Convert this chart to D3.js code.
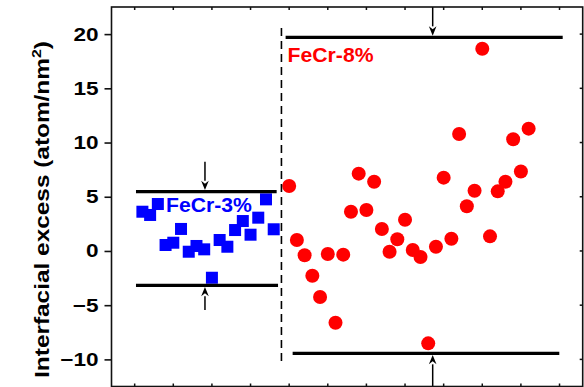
<!DOCTYPE html>
<html><head><meta charset="utf-8">
<script src="https://cdn.jsdelivr.net/npm/d3@7"></script>
<style>body{margin:0;background:#fff}svg{display:block}</style>
</head><body><svg id="c" width="584" height="387"></svg>
<script>
// ---- data ----
const yTicks = [-10, -5, 0, 5, 10, 15, 20];
const xTicks = [0, 5, 10, 15, 20, 25, 30, 35, 40, 45, 50, 55];
const blueSample = [1,2,3,4,5,6,7,8,9,10,11,12,13,14,15,16,17,18];
const blueValues = [3.62,3.32,4.33,0.55,0.76,2.03,-0.07,0.46,0.15,-2.47,1.01,0.39,1.93,2.76,1.50,3.07,4.76,2.00];
const redSample = [20,21,22,23,24,25,26,27,28,29,30,31,32,33,34,35,36,37,38,39,40,41,42,43,44,45,46,47,48,49,50,51];
const redValues = [5.99,1.01,-0.40,-2.28,-4.25,-0.28,-6.62,-0.34,3.62,7.13,3.78,6.39,2.03,-0.07,1.08,2.88,0.09,-0.56,-8.52,0.39,6.76,1.13,10.79,4.12,5.56,18.65,1.35,5.50,6.39,10.30,7.33,11.28];
const limitValues = [5.47, -3.17, 19.70, -9.44];
const limitFrom = [0.17, 0.17, 19.54, 20.45];
const limitTo = [18.38, 18.56, 55.41, 54.97];
const arrowSample = [9.1, 9.1, 38.58, 38.58];
const arrowStart = [8.23, -5.44, 22.5, -12.5];
const separatorSample = 19;
const separatorRange = [20.56, -10.52];
const seriesLabels = ["FeCr-3%", "FeCr-8%"];
const yTitle = ["Interfacial excess (atom/nm", "2", ")"];

// ---- chart ----
const svg = d3.select("#c");
const font = "'Liberation Sans', Arial, Helvetica, sans-serif";
const x = d3.scaleLinear().domain([-3, 58]).range([111.5, 582.7]);
const y = d3.scaleLinear().domain([-12.5, 22.5]).range([386.5, 7]);

// markers
svg.append("g").selectAll("rect").data(blueValues).join("rect")
  .attr("x", (d, i) => x(blueSample[i]) - 6)
  .attr("y", d => y(d) - 6)
  .attr("width", 12).attr("height", 12)
  .attr("fill", "#0000ff");

svg.append("g").selectAll("circle").data(redValues).join("circle")
  .attr("cx", (d, i) => x(redSample[i]))
  .attr("cy", d => y(d))
  .attr("r", 7)
  .attr("fill", "#ff0000");

// limit lines
svg.append("g").selectAll("line").data(limitValues).join("line")
  .attr("x1", (d, i) => x(limitFrom[i]))
  .attr("x2", (d, i) => x(limitTo[i]))
  .attr("y1", d => y(d)).attr("y2", d => y(d))
  .attr("stroke", "#000").attr("stroke-width", 3.2);

// arrows
const ag = svg.append("g");
arrowSample.forEach((s, i) => {
  const ax = x(s), y0 = y(arrowStart[i]), y1 = y(limitValues[i]);
  const dir = y1 > y0 ? 1 : -1;
  const headLen = 11, hw = 3.8;
  ag.append("line").attr("x1", ax).attr("x2", ax)
    .attr("y1", y0).attr("y2", y1 - dir * headLen)
    .attr("stroke", "#000").attr("stroke-width", 1.5);
  ag.append("path")
    .attr("d", `M${ax},${y1 - dir*1.6} L${ax-hw},${y1 - dir*headLen} L${ax},${y1 - dir*(headLen-3)} L${ax+hw},${y1 - dir*headLen} Z`)
    .attr("fill", "#000");
});

// separator
svg.append("line")
  .attr("x1", x(separatorSample)).attr("x2", x(separatorSample))
  .attr("y1", y(separatorRange[0])).attr("y2", y(separatorRange[1]))
  .attr("stroke", "#000").attr("stroke-width", 1.6)
  .attr("stroke-dasharray", "8,5");

// frame
svg.append("rect")
  .attr("x", x(-3)).attr("y", y(22.5))
  .attr("width", x(58) - x(-3)).attr("height", y(-12.5) - y(22.5))
  .attr("fill", "none").attr("stroke", "#111").attr("stroke-width", 1.6);

// top / bottom inner ticks
svg.append("g").selectAll("line.t").data(xTicks).join("line")
  .attr("x1", d => x(d)).attr("x2", d => x(d))
  .attr("y1", y(22.5)).attr("y2", y(22.5) + 3)
  .attr("stroke", "#111").attr("stroke-width", 1.5);
svg.append("g").selectAll("line.b").data(xTicks).join("line")
  .attr("x1", d => x(d)).attr("x2", d => x(d))
  .attr("y1", y(-12.5)).attr("y2", y(-12.5) - 3)
  .attr("stroke", "#111").attr("stroke-width", 1.5);
// right inner ticks
svg.append("g").selectAll("line.r").data(yTicks).join("line")
  .attr("x1", x(58)).attr("x2", x(58) - 3)
  .attr("y1", d => y(d)).attr("y2", d => y(d))
  .attr("stroke", "#111").attr("stroke-width", 1.5);

// left axis
const yAxis = svg.append("g").attr("transform", `translate(${x(-3)},0)`)
  .call(d3.axisLeft(y).tickValues(yTicks).tickSize(7).tickPadding(6).tickFormat(d3.format("d")));
yAxis.select(".domain").remove();
yAxis.selectAll(".tick line").attr("stroke", "#111").attr("stroke-width", 1.6);
yAxis.selectAll(".tick text")
  .attr("x", 0)
  .attr("transform", "translate(-13,0) scale(1.22,1)")
  .attr("font-family", font).attr("font-weight", "bold")
  .attr("font-size", 18.5).attr("fill", "#000");

// series labels
svg.append("text").text(seriesLabels[0])
  .attr("transform", "translate(166,211.7) scale(1.06,1)")
  .attr("font-family", font).attr("font-weight", "bold")
  .attr("font-size", 20).attr("fill", "#0000ff");
svg.append("text").text(seriesLabels[1])
  .attr("transform", "translate(287.6,61.7) scale(1.06,1)")
  .attr("font-family", font).attr("font-weight", "bold")
  .attr("font-size", 20).attr("fill", "#ff0000");

// y title
const tg = svg.append("g").attr("transform", "translate(49,209.5) rotate(-90)");
const tt = tg.append("text").attr("text-anchor", "middle")
  .attr("font-family", font).attr("font-weight", "bold")
  .attr("font-size", 20).attr("fill", "#000");
tt.append("tspan").text(yTitle[0]);
tt.append("tspan").text(yTitle[1]).attr("font-size", 13).attr("dy", -8);
tt.append("tspan").text(yTitle[2]).attr("dy", 8);
const natural = tt.node().getComputedTextLength();
tt.attr("transform", `scale(${337 / natural},1)`);
</script></body></html>
